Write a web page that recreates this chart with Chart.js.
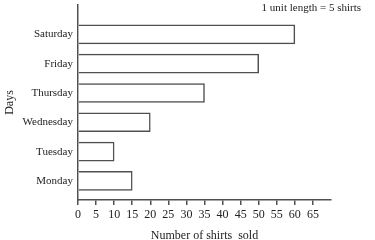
<!DOCTYPE html>
<html>
<head>
<meta charset="utf-8">
<script src="https://cdn.jsdelivr.net/npm/chart.js@4"></script>
<style>
  html, body { margin: 0; padding: 0; background: #fff; }
  #wrap { width: 375px; height: 240px; }
</style>
</head>
<body>
<div id="wrap"><canvas id="chart"></canvas></div>
<script>
const days = ['Monday', 'Tuesday', 'Wednesday', 'Thursday', 'Friday', 'Saturday'];
const shirtsSold = [15, 10, 20, 35, 50, 60];
const xTicks = [0, 5, 10, 15, 20, 25, 30, 35, 40, 45, 50, 55, 60, 65];
const scaleNote = '1 unit length = 5 shirts';

const lineColor = '#505050';
const font = 'Liberation Serif';

// note in the top right corner
const notePlugin = {
    id: 'note',
    afterDraw(chart) {
        const ctx = chart.ctx;
        ctx.save();
        ctx.font = '11px "' + font + '"';
        ctx.fillStyle = '#222';
        ctx.textAlign = 'right';
        ctx.textBaseline = 'middle';
        ctx.fillText(scaleNote, 361, 8);
        ctx.restore();
    }
};

new Chart(document.getElementById('chart'), {
    type: 'bar',
    data: {
        datasets: [{
            data: shirtsSold.map((v, i) => ({ x: v, y: i })),
            backgroundColor: '#fff',
            borderColor: lineColor,
            borderWidth: 1.5,
            borderSkipped: 'left',
            barThickness: 19
        }]
    },
    options: {
        indexAxis: 'y',
        responsive: true,
        maintainAspectRatio: false,
        animation: false,
        layout: { padding: { top: 5, right: 44, left: 0, bottom: 0 } },
        plugins: {
            legend: { display: false },
            tooltip: { enabled: false }
        },
        scales: {
            x: {
                type: 'linear',
                min: 0,
                max: 70,
                afterBuildTicks(s) { s.ticks = xTicks.concat([70]).map(v => ({ value: v })); },
                afterFit(s) { s.height = 40; },
                ticks: {
                    color: '#222',
                    font: { family: font, size: 12 },
                    padding: 3,
                    maxRotation: 0,
                    callback: v => xTicks.includes(v) ? String(v) : ''
                },
                grid: {
                    drawOnChartArea: false,
                    drawTicks: true,
                    tickLength: 5,
                    color: ctx => (ctx.tick && xTicks.includes(ctx.tick.value)) ? lineColor : 'transparent',
                    lineWidth: 1.5
                },
                border: { display: true, color: lineColor, width: 1.5 },
                title: {
                    display: true,
                    text: 'Number of shirts  sold',
                    color: '#222',
                    font: { family: font, size: 12 },
                    padding: { top: 6, bottom: -3 }
                }
            },
            y: {
                type: 'linear',
                offset: false,
                min: -0.65,
                max: 6,
                afterBuildTicks(s) { s.ticks = days.map((d, i) => ({ value: i })); },
                afterFit(s) { s.width = 78; s.paddingTop = 0; s.paddingBottom = 0; },
                ticks: {
                    color: '#222',
                    font: { family: font, size: 11 },
                    padding: 5,
                    callback: v => days[v] || ''
                },
                grid: { display: false, drawTicks: false },
                border: { display: true, color: lineColor, width: 1.5 },
                title: {
                    display: true,
                    text: 'Days',
                    color: '#222',
                    font: { family: font, size: 12 },
                    padding: { top: 3, bottom: 0 }
                }
            }
        }
    },
    plugins: [notePlugin]
});
</script>
</body>
</html>
